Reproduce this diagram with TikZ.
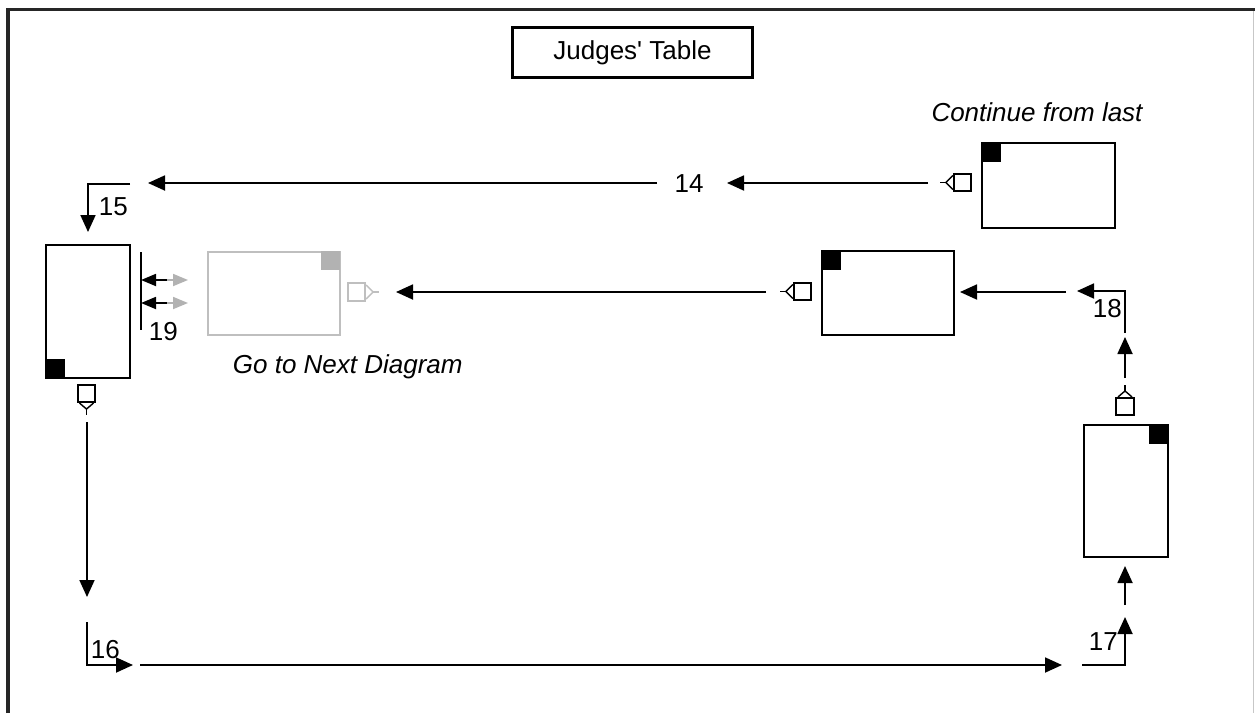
\documentclass[tikz,border=0pt]{standalone}
\usepackage{fontspec}
\newfontfamily\diagfont{Liberation Sans}
\usetikzlibrary{arrows.meta}
\usetikzlibrary{positioning}

\begin{document}
\begin{tikzpicture}[>={Triangle[length=17pt,width=15pt]}, line width=1.8pt, x=1pt, y=-1pt, font=\diagfont\fontsize{26}{30}\selectfont]
\tikzstyle{block} = [draw, rectangle, line width=2pt, inner sep=0pt, anchor=north west]
\tikzstyle{ghost} = [block, draw=black!25]
\tikzstyle{flag} = [rectangle, fill=black, minimum size=19pt, inner sep=0pt]
\tikzstyle{port} = [draw, rectangle, line width=1.6pt, minimum size=17.5pt, inner sep=0pt]
\tikzstyle{tag} = [inner sep=0pt, anchor=base west]
\tikzstyle{note} = [inner sep=0pt, font=\diagfont\fontsize{26}{30}\selectfont\itshape]
\tikzstyle{small} = [>={Triangle[length=15pt,width=12pt]}]

\useasboundingbox (0,0) rectangle (1255,713);
\fill[white] (0,0) rectangle (1255,713);
\draw[line width=3.5pt, draw=black!85] (8,713) -- (8,9.5) -- (1255,9.5);
\draw[line width=1.2pt, draw=black!22] (1253.5,11) -- (1253.5,713);

\node[draw, line width=3pt, minimum width=240pt, minimum height=50pt, inner sep=0pt] (JUDGES) at (632.5,52.5) {Judges' Table};

\node[block, minimum width=133pt, minimum height=85pt] (LASTBOX) at (981,142) {};
\node[flag, anchor=north west] (LASTFLAG) at (LASTBOX.north west) {};
\node[note, anchor=base] (CONTINUE) at (1037,121) {Continue from last};
\node[port] (LASTPORT) at (962.5,182.5) {};

\node[block, minimum width=84pt, minimum height=133pt] (LEFTBOX) at (45,244) {};
\node[flag, anchor=south west] (LEFTFLAG) at (LEFTBOX.south west) {};
\node[port] (LEFTPORT) at (86.5,393.5) {};

\node[ghost, minimum width=132pt, minimum height=83pt] (NEXTBOX) at (207,250.5) {};
\node[flag, fill=black!30, anchor=north east] (NEXTFLAG) at (NEXTBOX.north east) {};
\node[port, draw=black!25] (NEXTPORT) at (356.5,292) {};
\node[note, anchor=base west] (GONEXT) at (232,373) {Go to Next Diagram};

\node[block, minimum width=132pt, minimum height=84pt] (MIDBOX) at (821,250) {};
\node[flag, anchor=north west] (MIDFLAG) at (MIDBOX.north west) {};
\node[port] (MIDPORT) at (802.5,291.5) {};

\node[block, minimum width=84pt, minimum height=132pt] (RIGHTBOX) at (1083,424) {};
\node[flag, anchor=north east] (RIGHTFLAG) at (RIGHTBOX.north east) {};
\node[port] (RIGHTPORT) at (1125,406.5) {};

\node[tag, anchor=base] (N14) at (689,192.5) {14};
\node[tag] (N15) at (98,215) {15};
\node[tag] (N16) at (90,658) {16};
\node[tag] (N17) at (1088,650) {17};
\node[tag] (N18) at (1092,317) {18};
\node[tag] (N19) at (148,340) {19};

\coordinate (LASTFORK) at ([xshift=-13pt]LASTPORT.west);
\coordinate (MIDFORK) at ([xshift=-13pt]MIDPORT.west);
\coordinate (NEXTFORK) at ([xshift=13pt]NEXTPORT.east);
\coordinate (LEFTFORK) at ([yshift=-12pt]LEFTPORT.south);
\coordinate (RIGHTFORK) at ([yshift=12pt]RIGHTPORT.north);

\draw[line width=1.4pt] ([yshift=7pt]LASTPORT.west) -- ++(-7,7) -- ([yshift=-7pt]LASTPORT.west);
\draw[line width=1.4pt] ([xshift=-7pt]LASTPORT.west) -- (LASTFORK);
\draw[line width=1.4pt] ([yshift=7pt]MIDPORT.west) -- ++(-7,7) -- ([yshift=-7pt]MIDPORT.west);
\draw[line width=1.4pt] ([xshift=-7pt]MIDPORT.west) -- (MIDFORK);
\draw[line width=1.4pt, draw=black!25] ([yshift=7pt]NEXTPORT.east) -- ++(7,7) -- ([yshift=-7pt]NEXTPORT.east);
\draw[line width=1.4pt, draw=black!25] ([xshift=7pt]NEXTPORT.east) -- (NEXTFORK);
\draw[line width=1.4pt] ([xshift=-7pt]LEFTPORT.south) -- ++(7,6) -- ([xshift=7pt]LEFTPORT.south);
\draw[line width=1.4pt] ([yshift=-6pt]LEFTPORT.south) -- (LEFTFORK);
\draw[line width=1.4pt] ([xshift=-7pt]RIGHTPORT.north) -- ++(7,-6) -- ([xshift=7pt]RIGHTPORT.north);
\draw[line width=1.4pt] ([yshift=6pt]RIGHTPORT.north) -- (RIGHTFORK);

\coordinate (TAIL14) at (928,183);
\coordinate (TIP14) at (727,183);
\coordinate (TAIL14B) at (657,183);
\coordinate (TIP14B) at (148,183);
\coordinate (BEND15) at (130,184);
\coordinate (TAIL16) at (87,422);
\coordinate (TIP16) at (87,597);
\coordinate (BEND16) at (87,622);
\coordinate (TIP16B) at (133,665);
\coordinate (TAIL17) at (140,665);
\coordinate (TIP17) at (1062,665);
\coordinate (BEND17) at (1082,665);
\coordinate (TIP17B) at (1125,617);
\coordinate (TAIL17B) at (1125,605);
\coordinate (TAIL18) at (1125,378);
\coordinate (TIP18) at (1125,337);
\coordinate (BEND18) at (1125,333);
\coordinate (TIP18B) at (1077,291);
\coordinate (TAIL18B) at (1066,292);
\coordinate (TAIL20) at (766,292);
\coordinate (TIP20) at (396,292);
\coordinate (BAR19T) at (141,252);
\coordinate (BAR19B) at (141,330);
\coordinate (SPLIT19A) at (167,280);
\coordinate (SPLIT19B) at (167,303);

\path[draw,->] (TAIL14) -- (TIP14);
\path[draw,->] (TAIL14B) -- (TIP14B);
\path[draw,->] (BEND15) -| ([yshift=12pt]LEFTBOX.north);
\path[draw,->] (TAIL16) -- (TIP16);
\path[draw,->] (BEND16) |- (TIP16B);
\path[draw,->] (TAIL17) -- (TIP17);
\path[draw,->] (BEND17) -| (TIP17B);
\path[draw,->] (TAIL17B) -- ([yshift=-8pt]TAIL17B |- RIGHTBOX.south);
\path[draw,->] (TAIL18) -- (TIP18);
\path[draw,->] (BEND18) |- (TIP18B);
\path[draw,->] (TAIL18B) -- ([xshift=5pt]TAIL18B -| MIDBOX.east);
\path[draw,->] (TAIL20) -- (TIP20);

\draw (BAR19T) -- (BAR19B);
\path[draw,->,small] (SPLIT19A) -- (BAR19T |- SPLIT19A);
\path[draw,->,small] (SPLIT19B) -- (BAR19T |- SPLIT19B);
\path[draw,->,small,draw=black!30,fill=black!30] (SPLIT19A) -- ++(21,0);
\path[draw,->,small,draw=black!30,fill=black!30] (SPLIT19B) -- ++(21,0);
\end{tikzpicture}
\end{document}
